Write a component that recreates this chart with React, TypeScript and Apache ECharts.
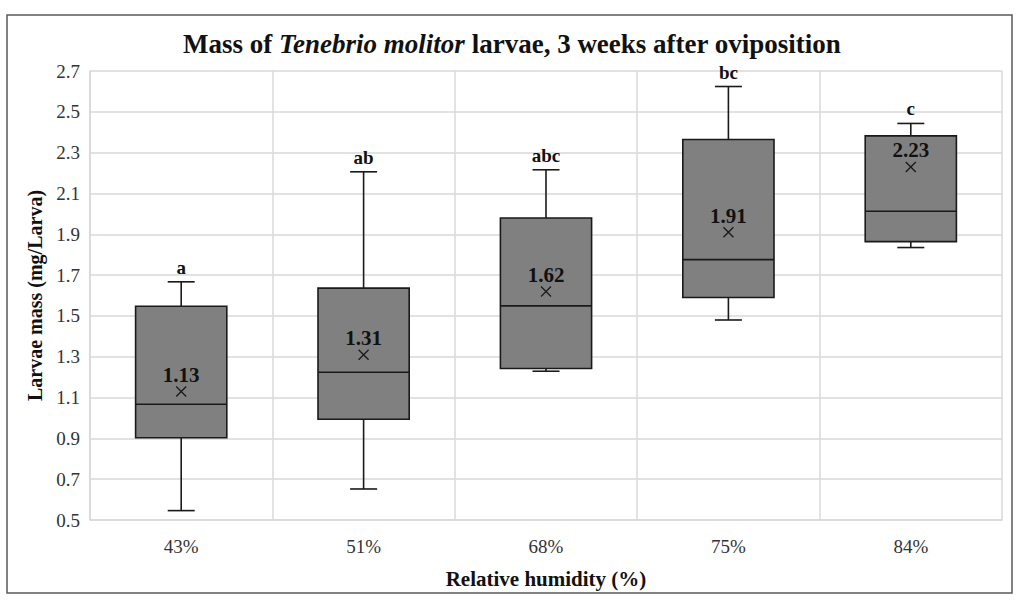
import React, { useEffect, useRef } from "react";
import * as echarts from "echarts";

const categories = ["43%", "51%", "68%", "75%", "84%"];
const minValues = [0.546, 0.652, 1.229, 1.48, 1.835];
const q1Values = [0.903, 0.994, 1.242, 1.59, 1.864];
const medianValues = [1.067, 1.224, 1.549, 1.776, 2.013];
const q3Values = [1.547, 1.636, 1.98, 2.364, 2.382];
const maxValues = [1.667, 2.206, 2.216, 2.624, 2.443];
const meanValues = [1.13, 1.31, 1.62, 1.91, 2.23];
const letters = ["a", "ab", "abc", "bc", "c"];

const FONT = "'Liberation Serif', 'Times New Roman', serif";

export default function App() {
  const ref = useRef<HTMLDivElement>(null);
  useEffect(() => {
    if (!ref.current) return;
    const chart = echarts.init(ref.current, null, { renderer: "svg" });
    const data = categories.map((_, i) => [
      i,
      minValues[i],
      q1Values[i],
      medianValues[i],
      q3Values[i],
      maxValues[i],
      meanValues[i],
    ]);
    const stroke = "#1a1a1a";
    const renderItem = (params: any, api: any) => {
      const i = api.value(0);
      const pMin = api.coord([i, api.value(1)]);
      const pQ1 = api.coord([i, api.value(2)]);
      const pMed = api.coord([i, api.value(3)]);
      const pQ3 = api.coord([i, api.value(4)]);
      const pMax = api.coord([i, api.value(5)]);
      const pMean = api.coord([i, api.value(6)]);
      const band = api.size([1, 0])[0];
      const boxW = band * 0.5;
      const capW = 27;
      const cx = pMed[0];
      const ls = { stroke, lineWidth: 1.6 };
      const xs = 5;
      return {
        type: "group",
        children: [
          { type: "line", shape: { x1: cx, y1: pQ3[1], x2: cx, y2: pMax[1] }, style: ls },
          { type: "line", shape: { x1: cx, y1: pQ1[1], x2: cx, y2: pMin[1] }, style: ls },
          { type: "line", shape: { x1: cx - capW / 2, y1: pMax[1], x2: cx + capW / 2, y2: pMax[1] }, style: ls },
          { type: "line", shape: { x1: cx - capW / 2, y1: pMin[1], x2: cx + capW / 2, y2: pMin[1] }, style: ls },
          {
            type: "rect",
            shape: { x: cx - boxW / 2, y: pQ3[1], width: boxW, height: pQ1[1] - pQ3[1] },
            style: { fill: "#808080", stroke, lineWidth: 1.6 },
          },
          { type: "line", shape: { x1: cx - boxW / 2, y1: pMed[1], x2: cx + boxW / 2, y2: pMed[1] }, style: ls },
          { type: "line", shape: { x1: cx - xs, y1: pMean[1] - xs, x2: cx + xs, y2: pMean[1] + xs }, style: { stroke, lineWidth: 1.3 } },
          { type: "line", shape: { x1: cx - xs, y1: pMean[1] + xs, x2: cx + xs, y2: pMean[1] - xs }, style: { stroke, lineWidth: 1.3 } },
          {
            type: "text",
            x: cx,
            y: pMean[1] - 6,
            style: {
              text: meanValues[i].toFixed(2),
              font: `bold 21px ${FONT}`,
              fill: "#111",
              align: "center",
              verticalAlign: "bottom",
            },
          },
          {
            type: "text",
            x: cx,
            y: pMax[1] - 5,
            style: {
              text: letters[i],
              font: `bold 19px ${FONT}`,
              fill: "#111",
              align: "center",
              verticalAlign: "bottom",
            },
          },
        ],
      };
    };
    chart.setOption({
      animation: false,
      backgroundColor: "#fff",
      title: {
        left: "center",
        top: 25,
        text: "{b|Mass of }{i|Tenebrio molitor}{b| larvae, 3 weeks after oviposition}",
        textStyle: {
          rich: {
            b: { fontFamily: FONT, fontWeight: "bold", fontSize: 27, color: "#111" },
            i: { fontFamily: FONT, fontWeight: "bold", fontStyle: "italic", fontSize: 27, color: "#111" },
          },
        },
      },
      grid: { left: 90, right: 22, top: 71, bottom: 87, containLabel: false },
      xAxis: {
        type: "category",
        data: categories,
        axisLine: { show: true, lineStyle: { color: "#d9d9d9", width: 1.5 } },
        axisTick: { show: false },
        splitLine: { show: true, lineStyle: { color: "#d9d9d9", width: 1.5 } },
        axisLabel: { fontFamily: FONT, fontSize: 19, color: "#333", margin: 17 },
        name: "Relative humidity (%)",
        nameLocation: "middle",
        nameGap: 48,
        nameTextStyle: { fontFamily: FONT, fontWeight: "bold", fontSize: 21, color: "#111" },
      },
      yAxis: {
        type: "value",
        min: 0.5,
        max: 2.7,
        interval: 0.2,
        axisLine: { show: true, lineStyle: { color: "#d9d9d9", width: 1.5 } },
        axisTick: { show: false },
        splitLine: { show: true, lineStyle: { color: "#d9d9d9", width: 1.5 } },
        axisLabel: {
          fontFamily: FONT,
          fontSize: 19,
          color: "#333",
          margin: 10,
          formatter: (v: number) => v.toFixed(1),
        },
        name: "Larvae mass (mg/Larva)",
        nameLocation: "middle",
        nameGap: 45,
        nameTextStyle: { fontFamily: FONT, fontWeight: "bold", fontSize: 20, color: "#111" },
      },
      graphic: [
        {
          type: "rect",
          shape: { x: 7, y: 15, width: 1005, height: 578 },
          style: { fill: "none", stroke: "#595959", lineWidth: 1.5 },
          silent: true,
        },
      ],
      series: [
        {
          type: "custom",
          renderItem,
          data,
          encode: { x: 0, y: [1, 2, 3, 4, 5, 6] },
          z: 10,
        },
      ],
    });
    return () => chart.dispose();
  }, []);
  return (
    <div
      ref={ref}
      style={{ position: "fixed", left: 0, top: 0, width: 1024, height: 607, background: "#fff" }}
    />
  );
}
